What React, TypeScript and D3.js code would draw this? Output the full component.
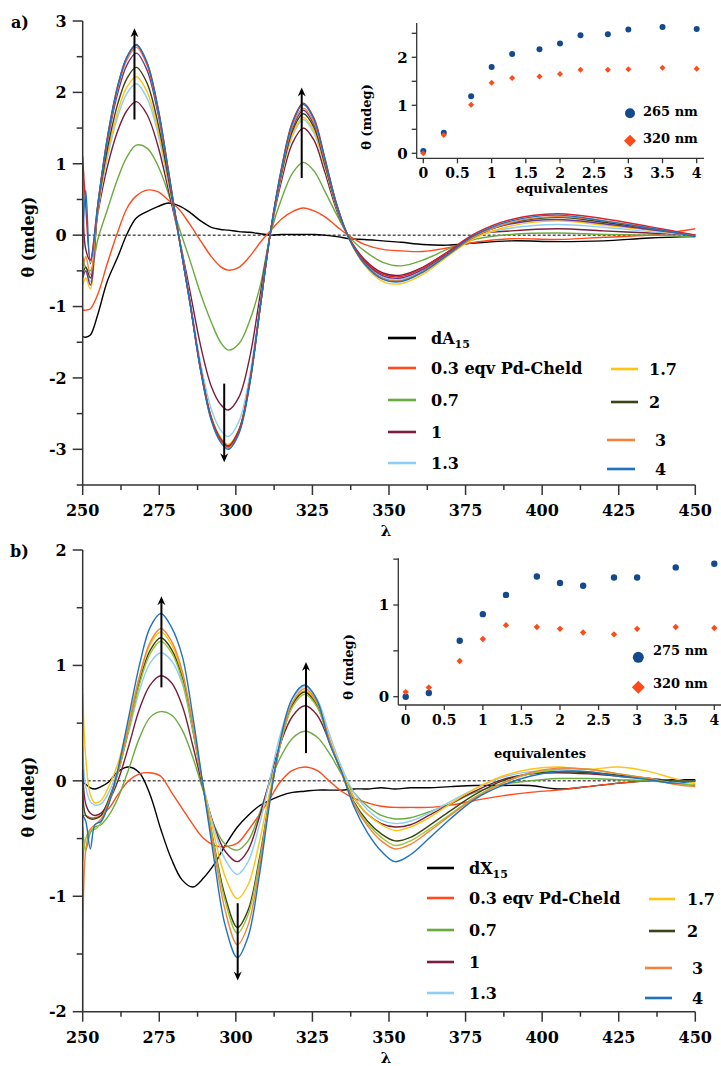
import React from 'react'
import * as d3 from 'd3'

// ---------- panel a) dA15 + Pd-Cheld titration ----------
const wlA = [250, 251, 252.5, 255, 258, 261.5, 264.5, 267.5, 271, 274.5, 278, 281.5, 285, 288.5, 292, 295, 297.5, 301, 304.5, 308, 311.5, 315, 318.5, 322, 325.5, 329, 333, 337, 342, 348, 354, 361, 369, 378, 390, 405, 420, 435, 450]

const dA15 = [-1.42, -1.43, -1.4, -1.1, -0.65, -0.3, 0.02, 0.24, 0.33, 0.4, 0.45, 0.41, 0.32, 0.2, 0.11, 0.08, 0.07, 0.05, 0.04, 0.02, 0.0, 0.01, 0.01, 0.01, 0.01, 0.0, -0.02, -0.05, -0.06, -0.08, -0.1, -0.13, -0.14, -0.11, -0.08, -0.09, -0.08, -0.04, -0.02]
const a03 = [-1.05, -1.05, -1.03, -0.82, -0.4, 0.05, 0.38, 0.55, 0.63, 0.61, 0.49, 0.36, 0.15, -0.08, -0.3, -0.44, -0.49, -0.45, -0.3, -0.1, 0.07, 0.23, 0.33, 0.38, 0.34, 0.26, 0.12, -0.01, -0.13, -0.2, -0.22, -0.23, -0.18, -0.1, -0.05, -0.06, -0.03, 0.0, 0.09]
const a07 = [-0.3, -0.45, -0.5, -0.05, 0.35, 0.8, 1.1, 1.26, 1.22, 0.98, 0.58, 0.1, -0.35, -0.82, -1.22, -1.5, -1.61, -1.52, -1.2, -0.7, 0.05, 0.52, 0.87, 1.02, 0.9, 0.62, 0.28, -0.02, -0.22, -0.38, -0.43, -0.35, -0.2, -0.06, 0.01, 0.03, 0.01, 0.0, -0.02]
const a10 = [0.8, -0.2, -0.35, 0.32, 0.95, 1.47, 1.75, 1.87, 1.69, 1.26, 0.63, -0.04, -0.78, -1.55, -2.12, -2.37, -2.45, -2.27, -1.72, -0.82, 0.08, 0.78, 1.29, 1.5, 1.33, 0.89, 0.34, -0.04, -0.34, -0.53, -0.56, -0.45, -0.24, 0.0, 0.06, 0.09, 0.06, 0.03, 0.0]
const a13 = [-0.6, -0.5, -0.65, 0.36, 1.07, 1.67, 1.99, 2.12, 1.92, 1.43, 0.71, -0.04, -0.89, -1.79, -2.44, -2.73, -2.82, -2.61, -1.97, -0.94, 0.09, 0.84, 1.39, 1.62, 1.43, 0.96, 0.37, -0.05, -0.38, -0.59, -0.62, -0.49, -0.27, -0.02, 0.1, 0.15, 0.11, 0.05, 0.0]
const a17 = [-0.7, -0.6, -0.75, 0.37, 1.12, 1.74, 2.08, 2.22, 2.01, 1.49, 0.75, -0.04, -0.93, -1.86, -2.54, -2.83, -2.93, -2.72, -2.05, -0.98, 0.09, 0.86, 1.41, 1.65, 1.46, 0.97, 0.38, -0.06, -0.42, -0.65, -0.68, -0.55, -0.3, -0.04, 0.13, 0.2, 0.14, 0.07, 0.0]
const a20 = [-0.55, -0.45, -0.6, 0.4, 1.19, 1.85, 2.2, 2.35, 2.13, 1.58, 0.79, -0.05, -0.93, -1.87, -2.56, -2.85, -2.95, -2.73, -2.06, -0.98, 0.09, 0.88, 1.46, 1.7, 1.51, 1.0, 0.39, -0.05, -0.4, -0.61, -0.64, -0.51, -0.28, -0.02, 0.17, 0.25, 0.18, 0.09, 0.0]
const a25 = [-0.6, -0.5, -0.7, 0.43, 1.29, 2.0, 2.39, 2.55, 2.31, 1.72, 0.86, -0.05, -0.94, -1.88, -2.57, -2.87, -2.97, -2.75, -2.08, -0.99, 0.1, 0.91, 1.5, 1.75, 1.55, 1.03, 0.4, -0.05, -0.37, -0.57, -0.6, -0.48, -0.26, 0.0, 0.16, 0.22, 0.16, 0.08, 0.0]
const a30 = [-0.5, -0.3, -0.55, 0.42, 1.32, 2.06, 2.46, 2.63, 2.38, 1.77, 0.88, -0.05, -0.94, -1.89, -2.58, -2.88, -2.98, -2.76, -2.08, -0.99, 0.1, 0.92, 1.53, 1.78, 1.58, 1.05, 0.41, -0.05, -0.4, -0.61, -0.64, -0.51, -0.28, -0.02, 0.18, 0.26, 0.2, 0.1, 0.0]
const a35 = [1.1, 0.4, -0.35, 0.45, 1.35, 2.1, 2.5, 2.66, 2.41, 1.8, 0.9, -0.05, -0.94, -1.88, -2.57, -2.86, -2.96, -2.74, -2.07, -0.99, 0.1, 0.96, 1.59, 1.85, 1.64, 1.09, 0.42, -0.04, -0.36, -0.55, -0.58, -0.46, -0.24, 0.02, 0.22, 0.3, 0.23, 0.12, 0.0]
const a40 = [-0.2, 0.63, -0.4, 0.45, 1.35, 2.1, 2.5, 2.67, 2.42, 1.8, 0.9, -0.05, -0.95, -1.9, -2.6, -2.9, -3.0, -2.78, -2.1, -1.0, 0.1, 0.95, 1.57, 1.83, 1.62, 1.08, 0.42, -0.05, -0.4, -0.62, -0.65, -0.52, -0.28, 0.0, 0.2, 0.28, 0.2, 0.1, -0.02]

// ---------- panel b) dX15 + Pd-Cheld titration ----------
const wlB = [250, 251, 252.5, 254, 256, 258.5, 261.5, 265, 268.5, 272, 275.5, 279, 282.5, 286, 289.5, 293, 296.5, 300.5, 304, 307.5, 311, 314.5, 318.5, 322.5, 326.5, 330.5, 334.5, 338.5, 343, 347.5, 352, 357, 363, 370, 378, 387, 396, 405, 415, 425, 435, 443, 450]

const dX15 = [-0.01, -0.03, -0.06, -0.07, -0.05, -0.01, 0.08, 0.12, 0.07, -0.12, -0.42, -0.68, -0.86, -0.92, -0.84, -0.72, -0.56, -0.4, -0.3, -0.22, -0.17, -0.13, -0.1, -0.09, -0.08, -0.08, -0.08, -0.07, -0.07, -0.06, -0.07, -0.06, -0.06, -0.05, -0.04, -0.04, -0.04, -0.07, -0.05, -0.02, 0.0, 0.01, 0.01]
const b03 = [-0.3, -0.3, -0.32, -0.32, -0.3, -0.24, -0.12, 0.0, 0.06, 0.07, 0.04, -0.1, -0.24, -0.38, -0.5, -0.56, -0.57, -0.54, -0.43, -0.3, -0.16, -0.01, 0.09, 0.12, 0.09, 0.0, -0.09, -0.15, -0.19, -0.22, -0.23, -0.23, -0.23, -0.21, -0.17, -0.13, -0.1, -0.08, -0.05, -0.02, 0.0, 0.0, 0.0]
const b07 = [-0.4, -0.6, -0.45, -0.4, -0.38, -0.3, -0.15, 0.1, 0.37, 0.55, 0.6, 0.57, 0.44, 0.2, -0.1, -0.39, -0.55, -0.6, -0.52, -0.3, -0.02, 0.2, 0.37, 0.43, 0.38, 0.24, 0.06, -0.1, -0.22, -0.3, -0.33, -0.32, -0.27, -0.2, -0.1, -0.03, 0.0, 0.02, 0.02, 0.01, 0.0, -0.02, -0.04]
const b10 = [0.1, -0.2, -0.28, -0.3, -0.28, -0.18, 0.0, 0.3, 0.62, 0.83, 0.91, 0.85, 0.65, 0.3, -0.08, -0.4, -0.61, -0.7, -0.6, -0.33, 0.0, 0.32, 0.56, 0.65, 0.57, 0.34, 0.08, -0.14, -0.29, -0.37, -0.4, -0.38, -0.3, -0.2, -0.09, 0.01, 0.06, 0.07, 0.06, 0.04, 0.02, 0.0, 0.0]
const b13 = [0.3, -0.05, -0.18, -0.21, -0.2, -0.1, 0.1, 0.42, 0.78, 1.02, 1.11, 1.04, 0.84, 0.42, -0.05, -0.42, -0.68, -0.81, -0.7, -0.4, 0.0, 0.4, 0.71, 0.82, 0.71, 0.41, 0.12, -0.1, -0.25, -0.34, -0.37, -0.35, -0.28, -0.18, -0.07, 0.03, 0.08, 0.09, 0.08, 0.05, 0.02, 0.0, 0.0]
const b17 = [0.75, 0.2, -0.12, -0.19, -0.17, -0.05, 0.15, 0.52, 0.9, 1.18, 1.29, 1.18, 0.92, 0.45, -0.06, -0.48, -0.83, -1.02, -0.9, -0.55, -0.1, 0.32, 0.67, 0.78, 0.67, 0.37, 0.09, -0.14, -0.29, -0.38, -0.43, -0.4, -0.32, -0.2, -0.07, 0.04, 0.1, 0.12, 0.1, 0.12, 0.08, 0.02, -0.02]
const b20 = [0.1, -0.3, -0.33, -0.33, -0.3, -0.16, 0.07, 0.45, 0.85, 1.13, 1.24, 1.14, 0.89, 0.44, -0.08, -0.57, -1.0, -1.27, -1.12, -0.7, -0.16, 0.31, 0.66, 0.77, 0.65, 0.35, 0.07, -0.18, -0.35, -0.46, -0.52, -0.49, -0.39, -0.26, -0.12, 0.0, 0.06, 0.08, 0.07, 0.05, 0.02, 0.0, 0.0]
const b25 = [-0.7, -0.5, -0.42, -0.42, -0.36, -0.2, 0.06, 0.44, 0.83, 1.1, 1.21, 1.11, 0.87, 0.43, -0.08, -0.58, -1.04, -1.32, -1.16, -0.73, -0.17, 0.31, 0.64, 0.75, 0.64, 0.34, 0.07, -0.19, -0.37, -0.49, -0.56, -0.52, -0.42, -0.29, -0.14, -0.02, 0.06, 0.1, 0.1, 0.06, 0.02, -0.02, -0.03]
const b30 = [-2.0, -0.6, -0.42, -0.38, -0.33, -0.18, 0.08, 0.48, 0.9, 1.2, 1.32, 1.21, 0.95, 0.48, -0.08, -0.62, -1.12, -1.42, -1.25, -0.78, -0.18, 0.33, 0.68, 0.8, 0.68, 0.36, 0.07, -0.2, -0.39, -0.52, -0.59, -0.55, -0.44, -0.3, -0.15, -0.02, 0.07, 0.11, 0.1, 0.06, 0.02, -0.03, -0.05]
const b40 = [-0.3, -0.35, -0.59, -0.38, -0.35, -0.2, 0.1, 0.55, 1.0, 1.33, 1.45, 1.33, 1.08, 0.55, -0.08, -0.7, -1.25, -1.53, -1.35, -0.85, -0.2, 0.35, 0.72, 0.83, 0.7, 0.33, 0.08, -0.22, -0.45, -0.61, -0.7, -0.64, -0.5, -0.33, -0.16, -0.04, 0.04, 0.08, 0.08, 0.04, 0.01, -0.02, 0.0]

// ---------- insets ----------
const eqv = [0, 0.3, 0.7, 1, 1.3, 1.7, 2, 2.3, 2.7, 3, 3.5, 4]
const a265 = [0.05, 0.43, 1.19, 1.8, 2.07, 2.17, 2.29, 2.46, 2.48, 2.58, 2.63, 2.59]
const a320 = [0.0, 0.38, 1.01, 1.47, 1.57, 1.6, 1.65, 1.74, 1.74, 1.75, 1.78, 1.76]
const b275 = [0.0, 0.04, 0.61, 0.9, 1.11, 1.31, 1.24, 1.21, 1.3, 1.3, 1.41, 1.45]
const b320 = [0.05, 0.1, 0.39, 0.63, 0.78, 0.76, 0.74, 0.7, 0.68, 0.74, 0.76, 0.75]

const legendLabels = ['0.3 eqv Pd-Cheld', '0.7', '1', '1.3', '1.7', '2', '3', '4']
const arrowsA = [[266.9, 1.62, 2.9], [321.5, 0.8, 2.07], [296.2, -2.08, -3.18]]
const arrowsB = [[275.7, 0.81, 1.6], [322.9, 0.24, 1.03], [300.6, -1.06, -1.73]]

const C = {
  black: '#000000', red: '#ff4a1c', green: '#6aab3e', maroon: '#7a1e3c', lblue: '#8ecdf5',
  gold: '#ffc312', olive: '#3a4514', purple: '#6a3590', orange: '#f0843a', crimson: '#d8242a',
  lime: '#9ac53a', blue: '#1e72c0', dot: '#134a8c', dia: '#ff4a1a',
}

const seriesA = [
  { v: dA15, c: C.black }, { v: a03, c: C.red }, { v: a07, c: C.green }, { v: a10, c: C.maroon },
  { v: a13, c: C.lblue }, { v: a17, c: C.gold }, { v: a20, c: C.olive }, { v: a25, c: C.purple },
  { v: a30, c: C.orange }, { v: a35, c: C.crimson }, { v: a40, c: C.blue },
]
const seriesB = [
  { v: dX15, c: C.black }, { v: b03, c: C.red }, { v: b07, c: C.green }, { v: b10, c: C.maroon },
  { v: b13, c: C.lblue }, { v: b17, c: C.gold }, { v: b20, c: C.olive }, { v: b25, c: C.lime },
  { v: b30, c: C.orange }, { v: b40, c: C.blue },
]
const legendColors = [C.red, C.green, C.maroon, C.lblue, C.gold, C.olive, C.orange, C.blue]

const FONT = 'DejaVu Serif'
const AX = '#333'

function Arrow({ x, y0, y1 }) {
  const up = y1 < y0
  const s = up ? 1 : -1
  return (
    <g>
      <line x1={x} x2={x} y1={y0} y2={y1 + s * 3} stroke="#000" strokeWidth={2} />
      <path d={`M${x},${y1} L${x - 4},${y1 + s * 9} L${x},${y1 + s * 6} L${x + 4},${y1 + s * 9} Z`} fill="#000" />
    </g>
  )
}

function Spectra({ wl, series, yDomain, top, bottom, yMajor, yMinor, arrows, tickY, lambdaY }) {
  const x = d3.scaleLinear().domain([250, 450]).range([82.7, 695.3])
  const y = d3.scaleLinear().domain(yDomain).range([bottom, top])
  const line = d3.line<number>().x((_, i) => x(wl[i])).y(d => y(d)).curve(d3.curveCatmullRom.alpha(0.5))
  const xMajor = d3.range(250, 451, 25)
  const xMinor = d3.range(262.5, 450, 25)
  const x0 = x(250)
  return (
    <g>
      <line x1={x(250)} x2={x(450)} y1={y(0)} y2={y(0)} stroke="#000" strokeWidth={1} strokeDasharray="3,2" />
      <g fill="none" strokeWidth={1.4} strokeLinejoin="round">
        {series.map((s, i) => <path key={i} d={line(s.v) || ''} stroke={s.c} />)}
      </g>
      {arrows.map((a, i) => <Arrow key={i} x={x(a[0])} y0={y(a[1])} y1={y(a[2])} />)}
      <g stroke={AX} strokeWidth={1.5}>
        <line x1={x0} x2={x0} y1={top} y2={bottom} />
        <line x1={x0} x2={x(450)} y1={bottom} y2={bottom} />
        {yMajor.map(v => <line key={'ym' + v} x1={x0 - 10} x2={x0} y1={y(v)} y2={y(v)} />)}
        {yMinor.map(v => <line key={'yn' + v} x1={x0 - 6} x2={x0} y1={y(v)} y2={y(v)} />)}
        {xMajor.map(v => <line key={'xm' + v} x1={x(v)} x2={x(v)} y1={bottom} y2={bottom + 10} />)}
        {xMinor.map(v => <line key={'xn' + v} x1={x(v)} x2={x(v)} y1={bottom} y2={bottom + 5} />)}
      </g>
      <g fontFamily={FONT} fontWeight="bold" fontSize={16} fill="#000">
        {yMajor.map(v => <text key={'yl' + v} x={x0 - 16} y={y(v)} dy="0.36em" textAnchor="end">{String(v)}</text>)}
        {xMajor.map(v => <text key={'xl' + v} x={x(v)} y={tickY} textAnchor="middle">{v}</text>)}
        <text x={386} y={lambdaY} textAnchor="middle" fontSize={15}>λ</text>
      </g>
    </g>
  )
}

function Inset({ xRange, yDomain, yRange, axisX, axisTop, axisY, axisRight, yMajor, yMinor, s1, s2, tickY, titleX, titleY, ylabX, ylabY, leg, r, lr }) {
  const x = d3.scaleLinear().domain([0, 4]).range(xRange)
  const y = d3.scaleLinear().domain(yDomain).range(yRange)
  const xt = d3.range(0, 4.01, 0.5)
  const dia = (cx, cy, h) => `M${cx},${cy - h} L${cx + h},${cy} L${cx},${cy + h} L${cx - h},${cy} Z`
  return (
    <g>
      <g stroke={AX} strokeWidth={1.3}>
        <line x1={axisX} x2={axisX} y1={axisTop} y2={axisY} />
        <line x1={axisX} x2={axisRight} y1={axisY} y2={axisY} />
        {yMajor.concat(yMinor).map(v => <line key={'y' + v} x1={axisX - 5} x2={axisX} y1={y(v)} y2={y(v)} />)}
        {xt.map(v => <line key={'x' + v} x1={x(v)} x2={x(v)} y1={axisY} y2={axisY + 5} />)}
      </g>
      {eqv.map((e, i) => <circle key={'c' + i} cx={x(e)} cy={y(s1[i])} r={r} fill={C.dot} />)}
      {eqv.map((e, i) => <path key={'d' + i} d={dia(x(e), y(s2[i]), r)} fill={C.dia} />)}
      <g fontFamily={FONT} fontWeight="bold" fill="#000">
        {yMajor.map(v => <text key={'yl' + v} x={axisX - 9} y={y(v)} dy="0.36em" textAnchor="end" fontSize={15}>{v}</text>)}
        {xt.map(v => <text key={'xl' + v} x={x(v)} y={tickY} textAnchor="middle" fontSize={14}>{String(v)}</text>)}
        <text x={titleX} y={titleY} textAnchor="middle" fontSize={13}>equivalentes</text>
        <text transform={`translate(${ylabX},${ylabY}) rotate(-90)`} textAnchor="middle" fontSize={13}>θ (mdeg)</text>
        <circle cx={leg.x} cy={leg.y1} r={lr} fill={C.dot} />
        <path d={dia(leg.x, leg.y2, lr + 1)} fill={C.dia} />
        <text x={leg.tx} y={leg.t1} dy="0.36em" fontSize={13}>{leg.l1}</text>
        <text x={leg.tx} y={leg.t2} dy="0.36em" fontSize={13}>320 nm</text>
      </g>
    </g>
  )
}

function Legend({ first, left, right }) {
  const rows = [first].concat(legendLabels)
  const colors = [C.black].concat(legendColors)
  return (
    <g fontFamily={FONT} fontWeight="bold" fontSize={16} fill="#000">
      {rows.map((lab, i) => {
        const p = i < 5 ? { x1: left.x1, x2: left.x2, tx: left.tx, y: left.ys[i] } : right[i - 5]
        return (
          <g key={i}>
            <line x1={p.x1} x2={p.x2} y1={p.y} y2={p.y} stroke={colors[i]} strokeWidth={2.6} />
            {i === 0 ? (
              <text x={p.tx} y={p.y} dy="0.36em">{lab}<tspan fontSize={11} dy={4}>15</tspan></text>
            ) : (
              <text x={p.tx} y={p.y} dy="0.36em">{lab}</text>
            )}
          </g>
        )
      })}
    </g>
  )
}

export default function App() {
  return (
    <svg width={721} height={1066} style={{ position: 'absolute', left: 0, top: 0, background: '#fff' }}>
      <rect width={721} height={1066} fill="#fff" />
      <g fontFamily={FONT} fontWeight="bold" fontSize={16}>
        <text x={11} y={28}>a)</text>
        <text x={10} y={557}>b)</text>
        <text transform="translate(34,237) rotate(-90)" textAnchor="middle">θ (mdeg)</text>
        <text transform="translate(34,797) rotate(-90)" textAnchor="middle">θ (mdeg)</text>
      </g>

      <Spectra wl={wlA} series={seriesA} yDomain={[-3.5, 3]} top={21} bottom={485}
        yMajor={[-3, -2, -1, 0, 1, 2, 3]} yMinor={[-3.5, -2.5, -1.5, -0.5, 0.5, 1.5, 2.5]}
        arrows={arrowsA} tickY={516} lambdaY={536} />
      <Legend first="dA" left={{ x1: 388, x2: 416, tx: 431, ys: [338, 368, 400, 432, 463] }}
        right={[{ x1: 611, x2: 638, tx: 649, y: 369 }, { x1: 611, x2: 638, tx: 649, y: 402 },
          { x1: 607, x2: 635, tx: 655, y: 440 }, { x1: 607, x2: 635, tx: 655, y: 469 }]} />
      <Inset xRange={[423.3, 696.7]} yDomain={[0, 2]} yRange={[153.3, 57.3]} axisX={416.7} axisTop={23}
        axisY={158.3} axisRight={704} yMajor={[0, 1, 2]} yMinor={[0.5, 1.5, 2.5]} s1={a265} s2={a320}
        tickY={178} titleX={562} titleY={193} ylabX={371} ylabY={117} r={3} lr={5}
        leg={{ x: 630, y1: 113.3, y2: 140.7, tx: 643, t1: 111, t2: 138, l1: '265 nm' }} />

      <Spectra wl={wlB} series={seriesB} yDomain={[-2, 2]} top={550} bottom={1011.7}
        yMajor={[-2, -1, 0, 1, 2]} yMinor={[-1.5, -0.5, 0.5, 1.5]}
        arrows={arrowsB} tickY={1043} lambdaY={1063} />
      <Legend first="dX" left={{ x1: 427, x2: 454, tx: 469, ys: [868, 898, 930, 962, 993] }}
        right={[{ x1: 649, x2: 675, tx: 687, y: 899 }, { x1: 649, x2: 675, tx: 687, y: 931 },
          { x1: 645, x2: 672, tx: 692, y: 968 }, { x1: 645, x2: 672, tx: 692, y: 998 }]} />
      <Inset xRange={[405.7, 714.3]} yDomain={[0, 1]} yRange={[696.7, 605]} axisX={398.3} axisTop={558.3}
        axisY={705} axisRight={721} yMajor={[0, 1]} yMinor={[0.5, 1.5]} s1={b275} s2={b320}
        tickY={725} titleX={540} titleY={758} ylabX={353} ylabY={667} r={3.2} lr={5.5}
        leg={{ x: 638.3, y1: 657.3, y2: 687.3, tx: 653, t1: 650, t2: 683, l1: '275 nm' }} />
    </svg>
  )
}
